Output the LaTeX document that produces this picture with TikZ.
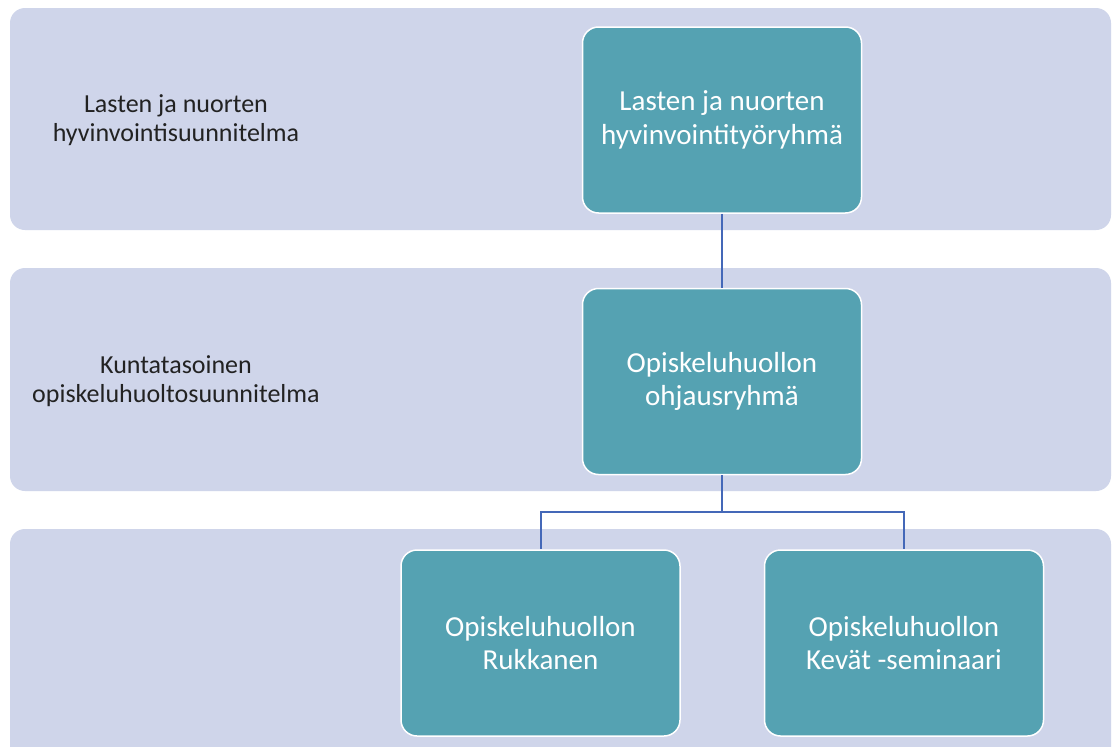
\documentclass[tikz,border=0pt]{standalone}
\usepackage{fontspec}
\setmainfont{Carlito}
\definecolor{bandfill}{HTML}{CFD5EA}
\definecolor{boxfill}{HTML}{55A2B2}
\definecolor{linkc}{HTML}{4468B8}
\definecolor{labelc}{HTML}{222222}
\begin{document}
\begin{tikzpicture}[x=1pt,y=-1pt,
  band/.style={fill=bandfill, rounded corners=15pt},
  orgbox/.style={draw=white, line width=1.5pt, fill=boxfill, rounded corners=16pt,
    minimum width=279pt, minimum height=186pt, inner sep=0pt, align=center,
    text=white, font=\fontsize{29}{33.5}\selectfont},
  sidelabel/.style={align=center, text=labelc, font=\fontsize{26}{29}\selectfont},
  link/.style={draw=linkc, line width=2pt}]
\useasboundingbox (0,0) rectangle (1112,747);
\fill[white] (0,0) rectangle (1112,747);
\fill[band] (10,8) rectangle (1111,230);
\fill[band] (10,268) rectangle (1111,491);
\fill[band] (10,529) rectangle (1111,770);
\node[sidelabel] (l1) at (176,120) {Lasten ja nuorten\\hyvinvointisuunnitelma};
\node[sidelabel] (l2) at (176,381) {Kuntatasoinen\\opiskeluhuoltosuunnitelma};
\node[orgbox] (top) at (722,120) {Lasten ja nuorten\\hyvinvointityöryhmä};
\node[orgbox] (mid) at (722,381.5) {Opiskeluhuollon\\ohjausryhmä};
\node[orgbox] (bl) at (540.5,643) {Opiskeluhuollon\\Rukkanen};
\node[orgbox] (br) at (904,643) {Opiskeluhuollon\\Kevät -seminaari};
\draw[link] (top.south) -- (mid.north);
\coordinate (j) at (722,512);
\draw[link] (mid.south) -- (j);
\draw[link] (j) -| (bl.north);
\draw[link] (j) -| (br.north);
\end{tikzpicture}
\end{document}
